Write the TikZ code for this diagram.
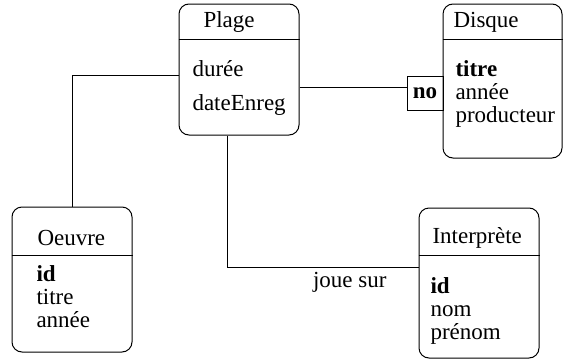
\documentclass[tikz,border=0pt]{standalone}
\usepackage{fontspec}
\setmainfont{Liberation Serif}
\usepackage{tikz}
\usetikzlibrary{positioning, calc}

\begin{document}
\begin{tikzpicture}[x=1pt, y=-1pt, line width=1pt,
    font=\fontsize{23}{27}\selectfont,
    entity/.style={draw, rounded corners=10pt, inner sep=0pt},
    keybox/.style={draw, inner sep=0pt, minimum width=36pt, minimum height=34pt},
    txt/.style={anchor=base west, inner sep=0pt}]
      \useasboundingbox (0, 0) rectangle (564, 359);

      % the four tables
      \node[entity, minimum width=120pt, minimum height=131pt] (plage) at (239, 69.5) {};
      \node[entity, minimum width=119pt, minimum height=154pt] (disque) at (502.5, 81) {};
      \node[entity, minimum width=120pt, minimum height=145pt] (oeuvre) at (72, 279.5) {};
      \node[entity, minimum width=120pt, minimum height=150pt] (interprete) at (479, 283) {};

      % header lines
      \draw (plage.west |- 0, 39) -- (plage.east |- 0, 39);
      \draw (disque.west |- 0, 39) -- (disque.east |- 0, 39);
      \draw (oeuvre.west |- 0, 255) -- (oeuvre.east |- 0, 255);
      \draw (interprete.west |- 0, 255) -- (interprete.east |- 0, 255);

      % titles
      \node[txt] (plagename) at (203, 27) {Plage};
      \node[txt] (disquename) at (453, 27) {Disque};
      \node[txt] (oeuvrename) at (37, 245) {Oeuvre};
      \node[txt] (interpretename) at (432, 243) {Interprète};

      % attributes
      \node[txt] (duree) at (192, 76) {durée};
      \node[txt] (dateenreg) at (192, 110) {dateEnreg};

      \node[txt] (dtitre) at (455, 76) {\textbf{titre}};
      \node[txt] (dannee) at (455, 99) {année};
      \node[txt] (dproducteur) at (455, 122) {producteur};

      \node[txt] (oid) at (36, 281) {\textbf{id}};
      \node[txt] (otitre) at (36, 304) {titre};
      \node[txt] (oannee) at (36, 327) {année};

      \node[txt] (iid) at (430, 293) {\textbf{id}};
      \node[txt] (inom) at (430, 316) {nom};
      \node[txt] (iprenom) at (430, 339) {prénom};

      % qualifier on Disque
      \node[keybox] (no) at (425, 93) {\textbf{no}};

      % links
      \draw ([yshift=-5.5pt]plage.west) -| (oeuvre.north);
      \coordinate (nolink) at ([yshift=-17.5pt]plage.east);
      \draw (nolink) -- (nolink -| no.west);
      \draw ([xshift=-12pt]plage.south) |- ([yshift=16pt]interprete.west);
      \node[anchor=base east, inner sep=0pt] (jouesur) at (387, 287) {joue sur};
\end{tikzpicture}
\end{document}
